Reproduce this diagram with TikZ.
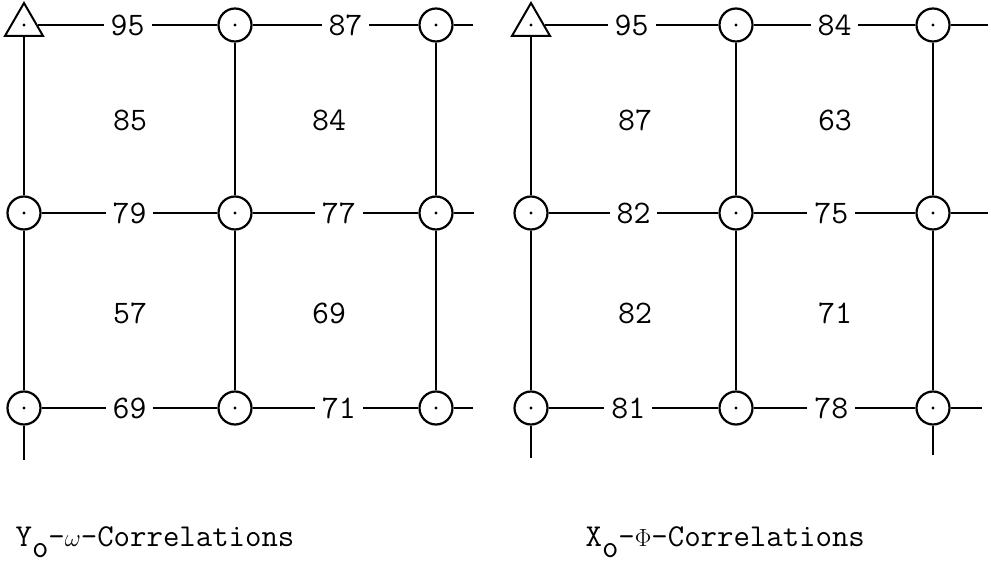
\documentclass[tikz,border=0pt]{standalone}
\usepackage{fontspec}
\usetikzlibrary{shapes.geometric}
\tikzset{
  site/.style={circle,draw,line width=2.2bp,minimum size=33bp,inner sep=0pt,
    path picture={\fill (path picture bounding box.center) circle (1.6bp);}},
  corner/.style={regular polygon,regular polygon sides=3,draw,line width=2bp,
    minimum size=44bp,inner sep=0pt,
    label={[circle,fill,inner sep=0pt,minimum size=3.2bp]center:}},
  val/.style={fill=white,inner xsep=7bp,inner ysep=2bp,font=\ttfamily\fontsize{33}{33}\selectfont},
  cell/.style={font=\ttfamily\fontsize{33}{33}\selectfont},
  caption/.style={anchor=base west,inner sep=0pt,font=\ttfamily\fontsize{32}{32}\selectfont},
}
\begin{document}
\begin{tikzpicture}[x=1bp,y=-1bp,line width=1.3bp]
      \useasboundingbox (0,0) rectangle (991,566);
      % Y_o - omega grid
      \draw
        (24,25) node[corner] (a11){}
        (235,25) node[site] (a12){}
        (436,25) node[site] (a13){}
        (24,213) node[site] (a21){}
        (235,213) node[site] (a22){}
        (436,213) node[site] (a23){}
        (24,408) node[site] (a31){}
        (235,408) node[site] (a32){}
        (436,408) node[site] (a33){};
      \coordinate (a13r) at (473,25);
      \coordinate (a23r) at (474,213);
      \coordinate (a33r) at (473,408);
      \coordinate (a31d) at (24,460);
      \begin{scope}[-]
        \draw (a11) -- node[val]{95} (a12);
        \draw (a12) -- node[val,pos=0.56]{87} (a13);
        \draw (a21) -- node[val]{79} (a22);
        \draw (a22) -- node[val,pos=0.52]{77} (a23);
        \draw (a31) -- node[val]{69} (a32);
        \draw (a32) -- node[val,pos=0.52]{71} (a33);
        \draw (a13) -- (a13r);
        \draw (a23) -- (a23r);
        \draw (a33) -- (a33r);
        \draw (a11) -- (a21);
        \draw (a21) -- (a31);
        \draw (a31) -- (a31d);
        \draw (a12) -- (a22);
        \draw (a22) -- (a32);
        \draw (a13) -- (a23);
        \draw (a23) -- (a33);
      \end{scope}
      \node[cell] (a1c) at (130,120) {85};
      \node[cell] (a2c) at (329,120) {84};
      \node[cell] (a3c) at (130,313) {57};
      \node[cell] (a4c) at (329,313) {69};
      \node[caption] (acap) at (15,546) {Y\raisebox{-11bp}{o}-$\omega$-Correlations};
      % X_o - Phi grid
      \draw
        (531,25) node[corner] (b11){}
        (736,25) node[site] (b12){}
        (933,25) node[site] (b13){}
        (531,213) node[site] (b21){}
        (736,213) node[site] (b22){}
        (933,213) node[site] (b23){}
        (531,408) node[site] (b31){}
        (736,408) node[site] (b32){}
        (933,408) node[site] (b33){};
      \coordinate (b13r) at (988,25);
      \coordinate (b23r) at (988,213);
      \coordinate (b33r) at (982,408);
      \coordinate (b31d) at (531,458);
      \coordinate (b33d) at (933,455);
      \begin{scope}[-]
        \draw (b11) -- node[val]{95} (b12);
        \draw (b12) -- node[val]{84} (b13);
        \draw (b21) -- node[val]{82} (b22);
        \draw (b22) -- node[val,pos=0.48]{75} (b23);
        \draw (b31) -- node[val,pos=0.47]{81} (b32);
        \draw (b32) -- node[val,pos=0.48]{78} (b33);
        \draw (b13) -- (b13r);
        \draw (b23) -- (b23r);
        \draw (b33) -- (b33r);
        \draw (b11) -- (b21);
        \draw (b21) -- (b31);
        \draw (b31) -- (b31d);
        \draw (b12) -- (b22);
        \draw (b22) -- (b32);
        \draw (b13) -- (b23);
        \draw (b23) -- (b33);
        \draw (b33) -- (b33d);
      \end{scope}
      \node[cell] (b1c) at (635,120) {87};
      \node[cell] (b2c) at (835,120) {63};
      \node[cell] (b3c) at (635,313) {82};
      \node[cell] (b4c) at (835,313) {71};
      \node[caption] (bcap) at (585,546) {X\raisebox{-11bp}{o}-$\Phi$-Correlations};
    \end{tikzpicture}
\end{document}
